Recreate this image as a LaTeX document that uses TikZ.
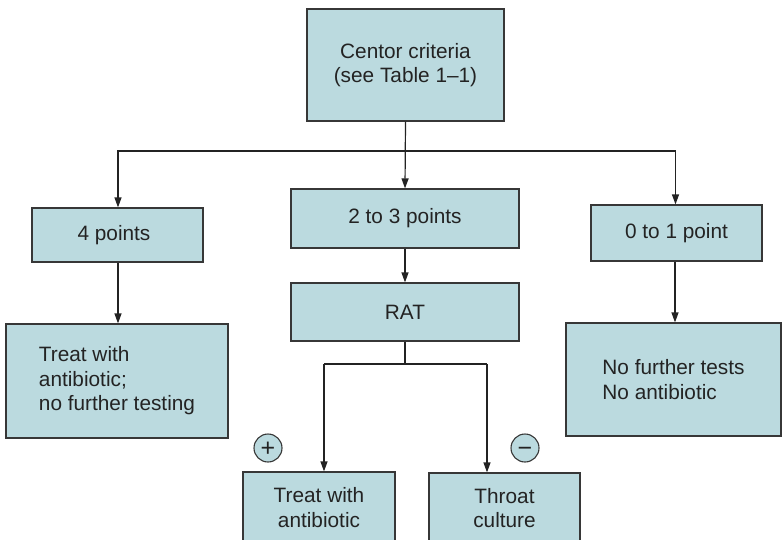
\documentclass[tikz,border=0pt]{standalone}
\usepackage{fontspec}
\setmainfont{Liberation Sans}
\usetikzlibrary{arrows.meta}
\definecolor{boxfill}{RGB}{187,218,223}
\definecolor{boxline}{RGB}{55,55,55}
\definecolor{inkc}{RGB}{35,35,35}
\newcommand{\signglyph}[1]{\raisebox{-8.6pt}[0pt][0pt]{#1}}
\tikzset{
  boxnode/.style={draw=boxline, fill=boxfill, line width=1.2pt, inner sep=0pt,
    text=inkc, align=center, font=\fontsize{20.8}{24.5}\selectfont},
  leftnode/.style={boxnode, align=left},
  arr/.style={draw=inkc, line width=1.2pt, -{Triangle[length=10pt,width=7pt]}},
  ln/.style={draw=inkc, line width=1.2pt},
  signnode/.style={circle, draw=boxline, fill=boxfill, line width=1.1pt, minimum size=28pt,
    inner sep=0pt, text=inkc, font=\fontsize{25}{25}\selectfont}
}
\begin{document}
\begin{tikzpicture}[x=1pt,y=-1pt]
\useasboundingbox (0,0) rectangle (782,539);
\clip (0,0) rectangle (782,539);
\node[boxnode, minimum width=197pt, minimum height=112pt] (top) at (405.5,65) {Centor criteria\\(see Table 1–1)};
\node[boxnode, minimum width=171pt, minimum height=54pt] (p4) at (117.5,235) {\hspace*{-7pt}4 points};
\node[boxnode, minimum width=228pt, minimum height=59pt] (p23) at (405,218.5) {2 to 3 points};
\node[boxnode, minimum width=228pt, minimum height=58pt] (rat) at (405,312) {RAT};
\node[boxnode, minimum width=171pt, minimum height=56pt] (p01) at (676.5,233) {0 to 1 point};
\node[leftnode, minimum width=222pt, minimum height=114pt] (tl) at (117,381) {Treat with\\antibiotic;\\no further testing};
\node[leftnode, minimum width=215pt, minimum height=113pt] (tr) at (673.5,379.5) {No further tests\\No antibiotic};
\node[boxnode, minimum width=152pt, minimum height=71pt] (tb1) at (319,507.5) {Treat with\\antibiotic};
\node[boxnode, minimum width=151pt, minimum height=70pt] (tb2) at (504.5,508) {Throat\\culture};
\node[signnode] (plus) at (268,448) {\signglyph{+}};
\node[signnode] (minus) at (525,448) {\signglyph{−}};
% connectors
\coordinate (bus) at (405,151);
\coordinate (split) at (405,364);
\coordinate (a1) at (324,364);
\coordinate (a2) at (487,364);
\draw[arr] (top.south) -- (p23.north);
\draw[arr] (bus) -| ([xshift=0.5pt]p4.north);
\draw[arr] (bus) -| ([xshift=-1pt]p01.north);
\draw[arr] ([xshift=0.5pt]p4.south) -- ([xshift=0.5pt]p4.south |- tl.north);
\draw[arr] (p23.south) -- (rat.north);
\draw[ln] (rat.south) -- (split);
\draw[ln] (a1) -- (a2);
\draw[arr] (a1) -- (a1 |- tb1.north);
\draw[arr] (a2) -- (a2 |- tb2.north);
\draw[arr] ([xshift=-1.5pt]p01.south) -- ([xshift=-1.5pt]p01.south |- tr.north);
\end{tikzpicture}
\end{document}
